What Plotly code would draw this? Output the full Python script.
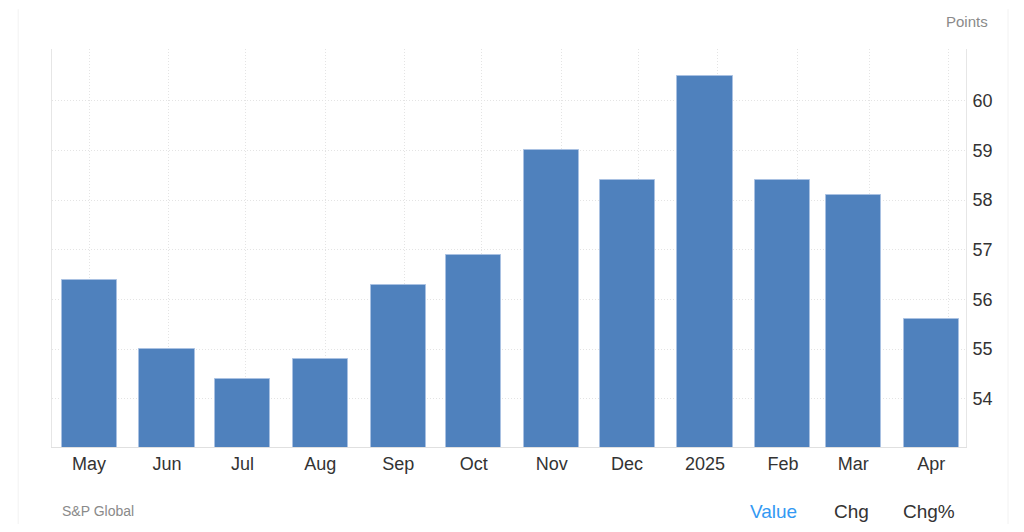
import plotly.graph_objects as go

# ---- data ----
months = ["2024-05-01", "2024-06-01", "2024-07-01", "2024-08-01", "2024-09-01", "2024-10-01",
          "2024-11-01", "2024-12-01", "2025-01-01", "2025-02-01", "2025-03-01", "2025-04-01"]
labels = ["May", "Jun", "Jul", "Aug", "Sep", "Oct", "Nov", "Dec", "2025", "Feb", "Mar", "Apr"]
values = [56.4, 55.0, 54.4, 54.8, 56.3, 56.9, 59.0, 58.4, 60.5, 58.4, 58.1, 55.6]
y_min, y_max = 53.03, 61.04
y_ticks = [54, 55, 56, 57, 58, 59, 60, y_max]
y_ticktext = ["54", "55", "56", "57", "58", "59", "60", ""]

DAY = 86400000
FONT = "Liberation Sans, Arial, sans-serif"
BAR = "#4f81bd"
GRID = "#e4e4e4"
DOT = "1px,2px"

fig = go.Figure()
fig.add_trace(go.Bar(
    x=months, y=values, width=21.9 * DAY,
    marker=dict(color=BAR, line=dict(color="#a9c1e2", width=1)),
    hoverinfo="x+y", showlegend=False,
))
# invisible trace to activate the gridline axis
fig.add_trace(go.Scatter(x=[months[0]], y=[values[0]], xaxis="x2", mode="markers",
                         marker=dict(opacity=0), showlegend=False, hoverinfo="skip"))

fig.update_layout(
    width=1008, height=516,
    margin=dict(l=44, r=50, t=41, b=77),
    paper_bgcolor="white", plot_bgcolor="white",
    font=dict(family=FONT, color="#333333", size=18),
    bargap=0,
    xaxis=dict(
        type="date", range=["2024-04-16 06:00", "2025-04-14 20:00"],
        tickvals=months, ticktext=labels, tickfont=dict(size=18, color="#333333"),
        showgrid=False, showline=True, linecolor="#e0e0e0", linewidth=1,
        ticks="", zeroline=False, fixedrange=True,
    ),
    xaxis2=dict(
        type="date", overlaying="x", range=["2024-04-16 14:00", "2025-04-07 15:00"],
        tickvals=months, showticklabels=False, showgrid=True, gridcolor=GRID,
        griddash=DOT, gridwidth=1, showline=False, zeroline=False, ticks="",
    ),
    yaxis=dict(
        side="right", range=[y_min, y_max], tickvals=y_ticks, ticktext=y_ticktext,
        tickfont=dict(size=18, color="#333333"), showgrid=True, gridcolor=GRID,
        griddash=DOT, gridwidth=1, showline=True, mirror=True, linecolor="#e6e6e6",
        zeroline=False, ticks="", ticklabelstandoff=2,
    ),
    annotations=[
        dict(text="Points", xref="paper", yref="paper", x=1.0, y=1.0, xanchor="left",
             yanchor="bottom", xshift=-22, yshift=17, showarrow=False,
             font=dict(size=15, color="#8a8a8a")),
        dict(text="S&P Global", xref="paper", yref="paper", x=0.009, y=-0.161, xanchor="left",
             yanchor="middle", showarrow=False, font=dict(size=14, color="#8a8a8a")),
        dict(text="Value", xref="paper", yref="paper", x=0.7895, y=-0.161, xanchor="center",
             yanchor="middle", showarrow=False, font=dict(size=19, color="#3399f3")),
        dict(text="Chg", xref="paper", yref="paper", x=0.8745, y=-0.161, xanchor="center",
             yanchor="middle", showarrow=False, font=dict(size=19, color="#333333")),
        dict(text="Chg%", xref="paper", yref="paper", x=0.96, y=-0.161, xanchor="center",
             yanchor="middle", showarrow=False, font=dict(size=19, color="#333333")),
    ],
)

# faint page container edges
fig.add_shape(type="line", xref="paper", yref="paper", x0=-0.037, x1=-0.037, y0=-0.2, y1=1.1,
              line=dict(color="#f2f2f2", width=1))
fig.add_shape(type="line", xref="paper", yref="paper", x0=1.046, x1=1.046, y0=-0.2, y1=1.1,
              line=dict(color="#f2f2f2", width=1))

fig.write_html("out.html")
